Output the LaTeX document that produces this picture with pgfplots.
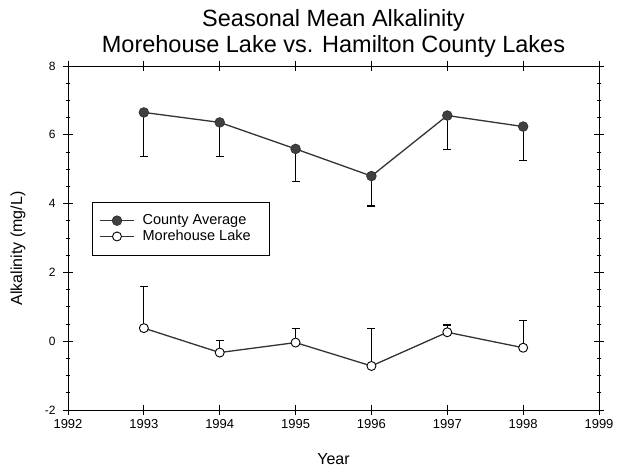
\documentclass[border=0pt]{standalone}
\usepackage{pgfplots}
\pgfplotsset{compat=1.18}
\usepackage{fontspec}
\setmainfont{Liberation Sans}
\definecolor{lineg}{HTML}{333333}
\definecolor{markg}{HTML}{404040}
\begin{document}
\begin{tikzpicture}
\begin{axis}[
  scale only axis, width=531pt, height=344pt,
  xmin=1992, xmax=1999, ymin=-2, ymax=8,
  xtick={1992,1993,1994,1995,1996,1997,1998,1999},
  ytick={-2,0,2,4,6,8},
  minor y tick num=3,
  tick align=center,
  major tick length=10pt, minor tick length=5pt,
  /pgf/number format/.cd, 1000 sep={}, assume math mode=true, /pgfplots/.cd,
  x tick label style={font=\fontsize{13}{15}\selectfont, yshift=-1pt},
  y tick label style={font=\fontsize{12}{14}\selectfont, xshift=-4pt},
  xlabel={Year}, ylabel={Alkalinity (mg/L)},
  every axis x label/.style={at={(rel axis cs:0.5,0)}, yshift=-49pt, anchor=center, font=\fontsize{16}{18}\selectfont},
  every axis y label/.style={at={(rel axis cs:0,0.47)}, xshift=-50pt, rotate=90, anchor=center, font=\fontsize{16}{18}\selectfont},
  axis line style={line width=0.9pt},
  every tick/.style={black, line width=0.8pt},
  clip=false,
  legend style={at={(rel axis cs:0.045,0.605)}, anchor=north west, draw=black, line width=0.9pt,
    font=\fontsize{14.5}{16}\selectfont, inner xsep=7pt, inner ysep=10.5pt, row sep=0pt, cells={anchor=west}},
  legend image code/.code={\draw[mark repeat=2, mark phase=2, #1] plot coordinates {(0pt,0pt) (17pt,0pt) (34pt,0pt)};},
  /tikz/every odd column/.append style={column sep=6pt},
]
\addplot[color=lineg, line width=1.3pt, mark=*, mark size=4.8pt, mark options={fill=markg, draw=lineg, line width=0.8pt},
  error bars/.cd, y dir=minus, y explicit, error mark=-,
  error bar style={black, line width=1.1pt}, error mark options={rotate=90, black, line width=1.1pt, mark size=4pt}]
coordinates {
 (1993,6.65) +- (0,1.27)
 (1994,6.36) +- (0,0.98)
 (1995,5.59) +- (0,0.95)
 (1996,4.80) +- (0,0.87)
 (1997,6.56) +- (0,1.00)
 (1998,6.24) +- (0,1.00)
};
\addlegendentry{\makebox[118pt][l]{County Average}}
\addplot[color=lineg, line width=1.3pt, mark=*, mark size=4.5pt, mark options={fill=white, draw=black, line width=0.9pt},
  error bars/.cd, y dir=plus, y explicit, error mark=-,
  error bar style={black, line width=1.1pt}, error mark options={rotate=90, black, line width=1.1pt, mark size=4pt}]
coordinates {
 (1993,0.38) +- (0,1.22)
 (1994,-0.33) +- (0,0.35)
 (1995,-0.04) +- (0,0.41)
 (1996,-0.72) +- (0,1.09)
 (1997,0.26) +- (0,0.21)
 (1998,-0.19) +- (0,0.79)
};
\addlegendentry{Morehouse Lake}
\node[align=center, anchor=south, yshift=5pt, font=\fontsize{23.5}{26}\selectfont] at (rel axis cs:0.5,1)
  {Seasonal Mean Alkalinity\\Morehouse Lake vs. Hamilton County Lakes};
\path (rel axis cs:0,0) ++(-68pt,-60pt) coordinate (bl);
\path (rel axis cs:1,1) ++(19pt,66pt) coordinate (tr);
\end{axis}
\pgfresetboundingbox
\path (bl) rectangle (tr);
\end{tikzpicture}
\end{document}
